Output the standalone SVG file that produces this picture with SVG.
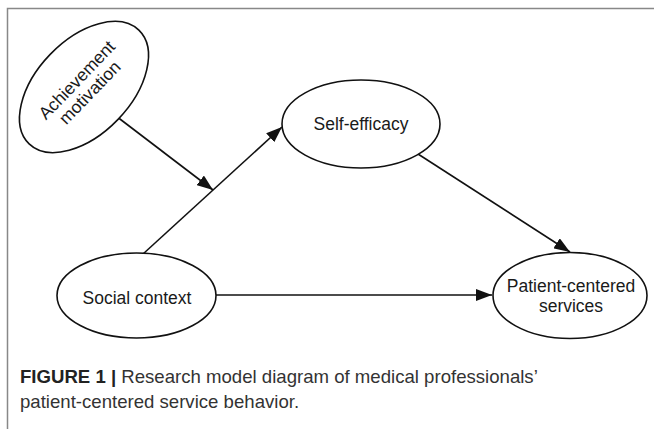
<svg xmlns="http://www.w3.org/2000/svg" width="654" height="429" viewBox="0 0 654 429">
<style>
.node{fill:#fff;stroke:#111;stroke-width:1.6}
.lbl{font-family:"Liberation Sans",Arial,sans-serif;font-size:17.5px;fill:#1a1a1a;text-anchor:middle}
.edge{stroke:#111;stroke-width:1.6;fill:none;marker-end:url(#ah)}
.cap{font-family:"Liberation Sans",Arial,sans-serif;font-size:18.6px;fill:#333}
</style>
<defs>
<marker id="ah" viewBox="0 0 16 12" refX="16" refY="6" markerWidth="16" markerHeight="12" markerUnits="userSpaceOnUse" orient="auto">
<path d="M0,0 L16,6 L0,12 z" fill="#111"/>
</marker>
</defs>
<rect width="654" height="429" fill="#fff"/>
<path d="M7.5,429 V8.5 H654" fill="none" stroke="#888" stroke-width="1.5"/>
<g id="connectors">
<line class="edge" x1="116" y1="116" x2="213" y2="190"/>
<line class="edge" x1="143" y1="254" x2="282" y2="127"/>
<line class="edge" x1="418" y1="154" x2="570" y2="252"/>
<line class="edge" x1="216" y1="295" x2="492" y2="295"/>
</g>
<g id="achievement">
<ellipse class="node" cx="84" cy="87" rx="79" ry="47" transform="rotate(-46 84 87)"/>
<text class="lbl" transform="rotate(-46 84 87)"><tspan x="84" y="83">Achievement</tspan><tspan x="84" y="101">motivation</tspan></text>
</g>
<g id="selfefficacy">
<ellipse class="node" cx="361" cy="124" rx="79" ry="44"/>
<text class="lbl" x="361" y="130">Self-efficacy</text>
</g>
<g id="social">
<ellipse class="node" cx="136.5" cy="295.5" rx="79.5" ry="42.5"/>
<text class="lbl" x="137" y="304">Social context</text>
</g>
<g id="patient">
<ellipse class="node" cx="570" cy="295.5" rx="77" ry="43"/>
<text class="lbl"><tspan x="571" y="292">Patient-centered</tspan><tspan x="571" y="312">services</tspan></text>
</g>
<g id="caption">
<text class="cap" x="20" y="383"><tspan font-weight="bold" fill="#222">FIGURE 1 |</tspan> Research model diagram of medical professionals’</text>
<text class="cap" x="20" y="408">patient-centered service behavior.</text>
</g>
</svg>
